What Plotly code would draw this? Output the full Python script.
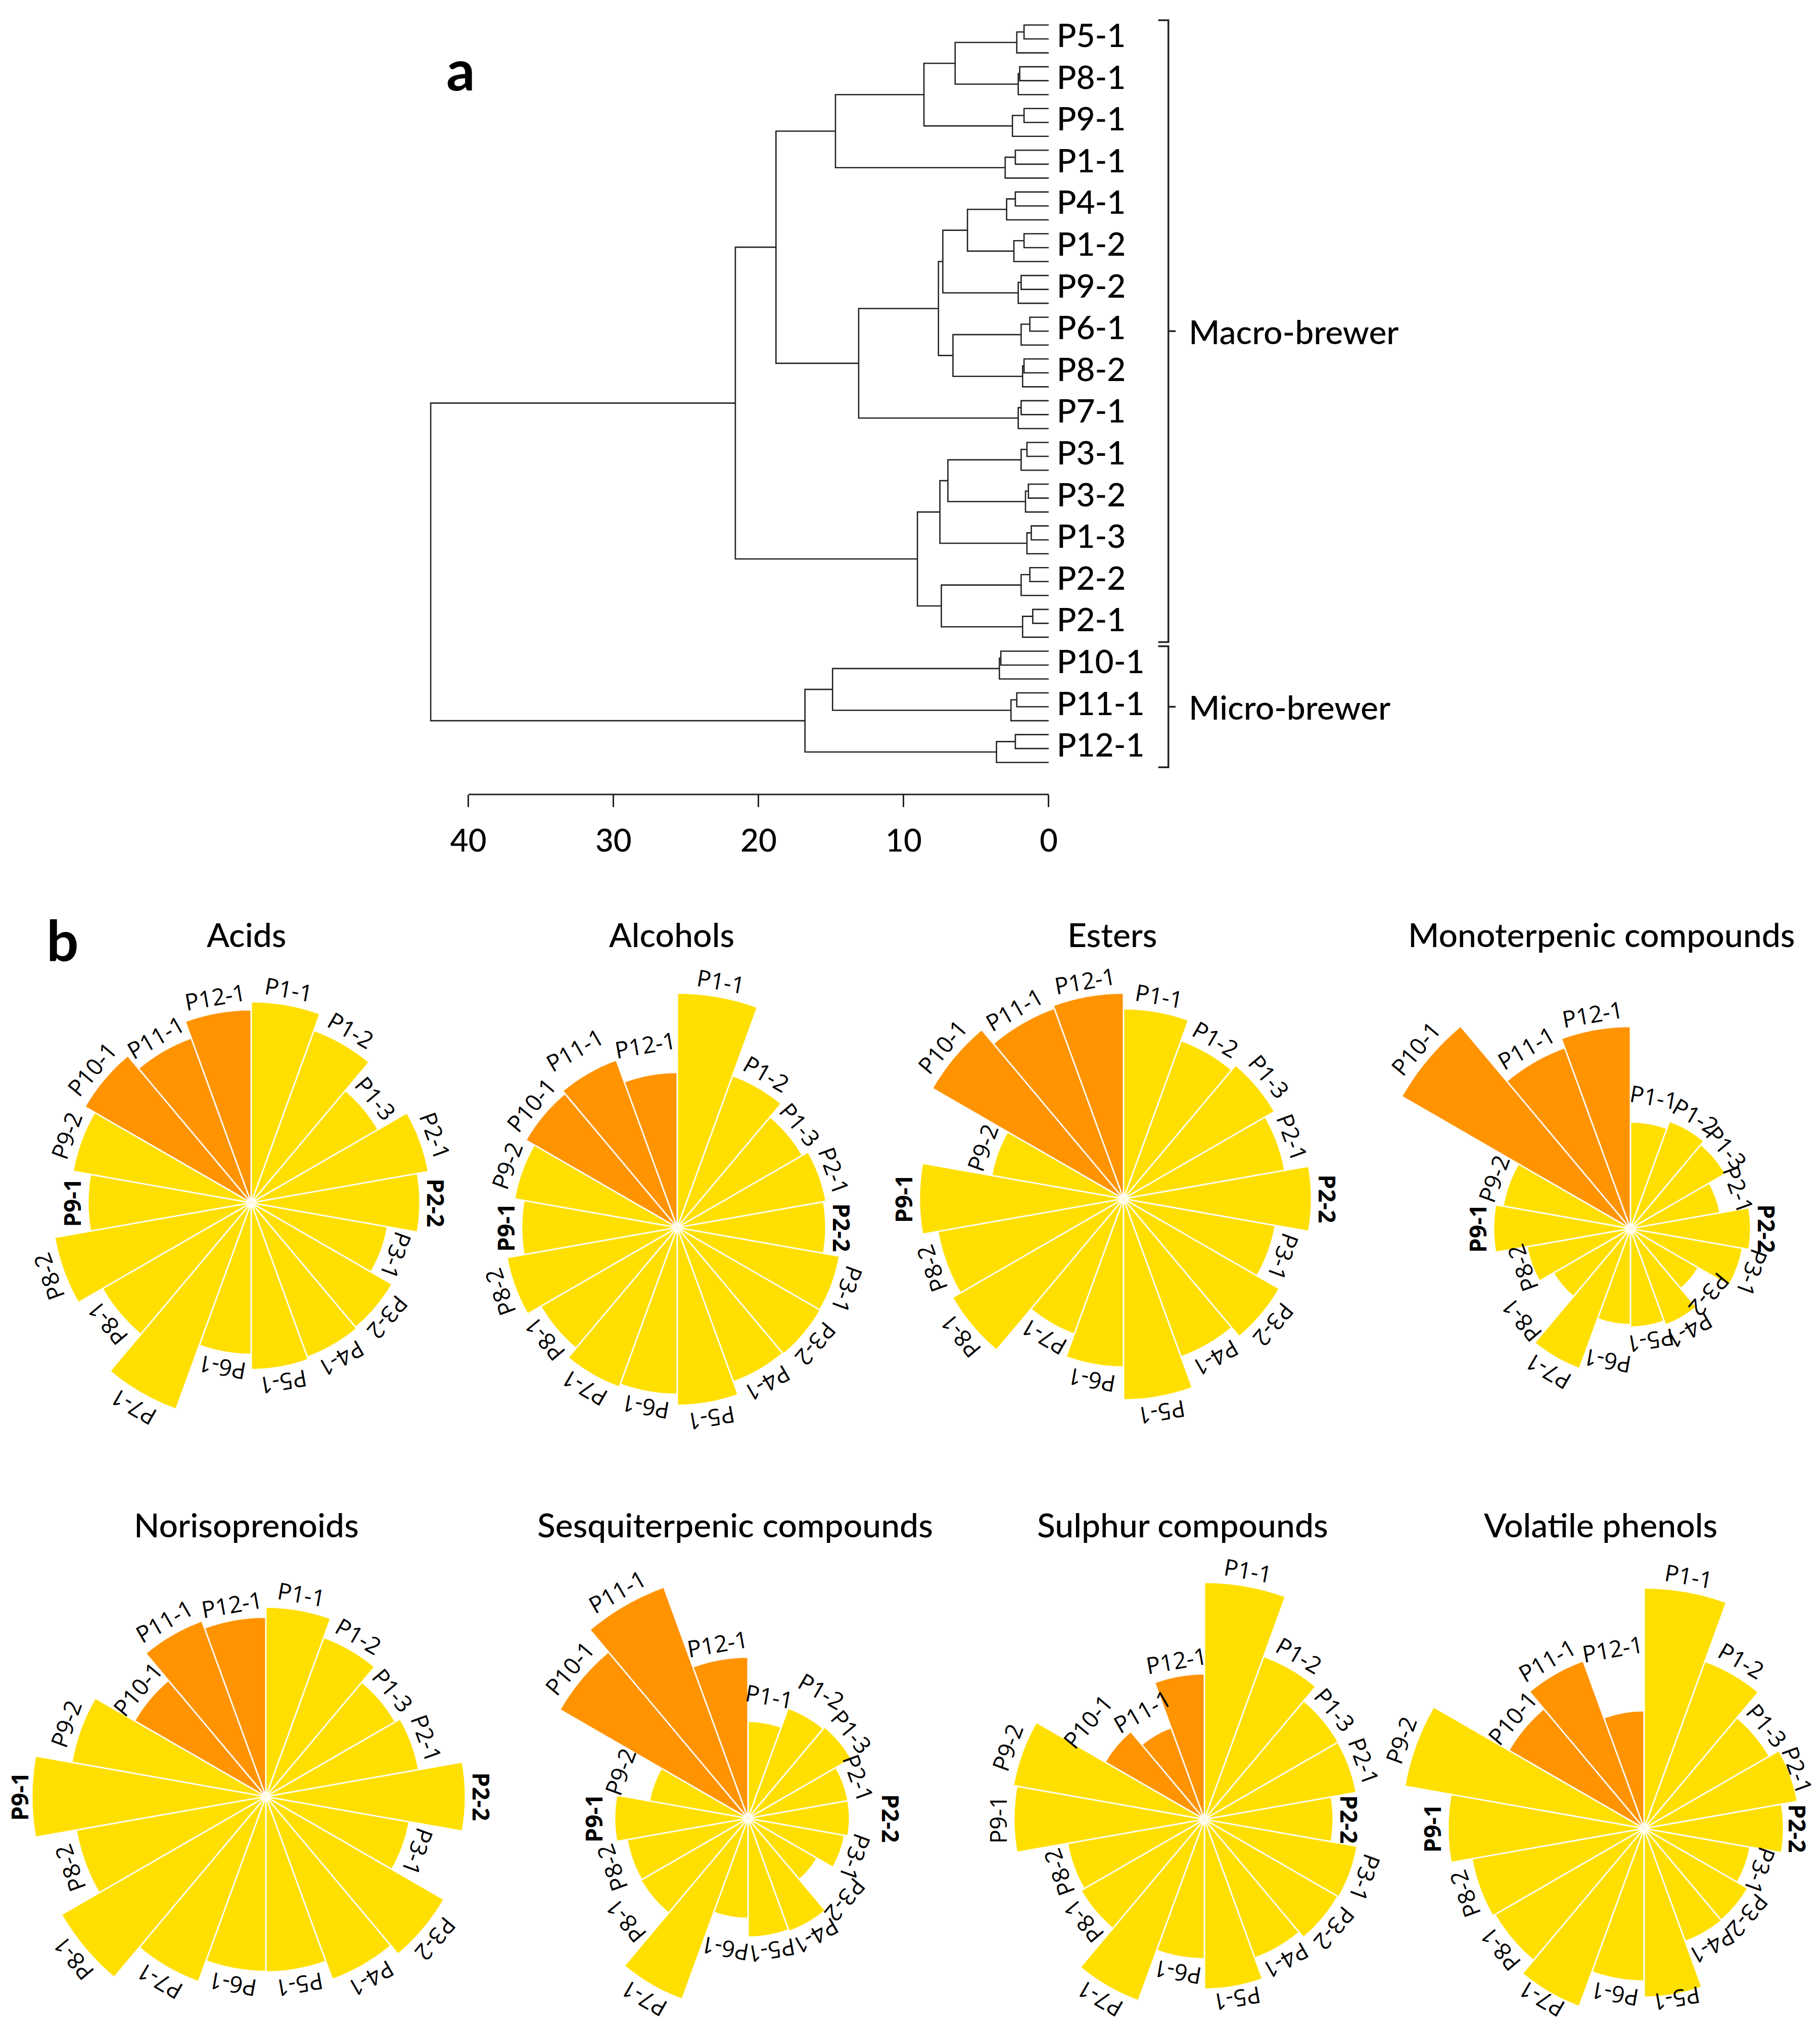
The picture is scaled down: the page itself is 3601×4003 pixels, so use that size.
import math
import plotly.graph_objects as go

W, H = 3601, 4003
FONT = "Lato"
LABEL_FONT = "Open Sans"

# ---------------- panel a : dendrogram data ----------------
groups = ["P5-1", "P8-1", "P9-1", "P1-1", "P4-1", "P1-2", "P9-2", "P6-1", "P8-2", "P7-1",
          "P3-1", "P3-2", "P1-3", "P2-2", "P2-1", "P10-1", "P11-1", "P12-1"]
# heights at which the three replicates of each sample join
rep_first = [1.7, 2.0, 1.7, 2.3, 2.3, 1.7, 1.9, 1.3, 1.7, 1.9, 1.5, 1.4, 1.2, 1.3, 1.1, 3.3, 2.2, 2.3]
rep_second = [2.2, 2.1, 2.5, 3.0, 2.9, 2.4, 2.1, 1.9, 1.8, 2.1, 1.9, 1.6, 1.5, 1.9, 1.8, 3.4, 2.6, 3.6]
# higher level merges
merge_left = ["P5-1", "A1", "A2", "P4-1", "B1", "P6-1", "B2", "B4", "A3",
              "P3-1", "C1", "P2-2", "C2", "M1", "P10-1", "D1", "MAC"]
merge_right = ["P8-1", "P9-1", "P1-1", "P1-2", "P9-2", "P8-2", "B3", "P7-1", "B5",
               "P3-2", "P1-3", "P2-1", "C3", "C4", "P11-1", "P12-1", "MIC"]
merge_height = [6.45, 8.6, 14.7, 5.6, 7.3, 6.6, 7.6, 13.1, 18.8,
                6.95, 7.5, 7.4, 9.05, 21.6, 14.9, 16.8, 42.6]
merge_name = ["A1", "A2", "A3", "B1", "B2", "B3", "B4", "B5", "M1",
              "C1", "C2", "C3", "C4", "MAC", "D1", "MIC", "ROOT"]
cluster_names = ["Macro-brewer", "Micro-brewer"]
cluster_sizes = [15, 3]
axis_ticks = [0, 10, 20, 30, 40]

# ---------------- panel b : polar bar data ----------------
samples = ["P1-1", "P1-2", "P1-3", "P2-1", "P2-2", "P3-1", "P3-2", "P4-1", "P5-1", "P6-1",
           "P7-1", "P8-1", "P8-2", "P9-1", "P9-2", "P10-1", "P11-1", "P12-1"]
micro_samples = ["P10-1", "P11-1", "P12-1"]
families = ["Acids", "Alcohols", "Esters", "Monoterpenic compounds",
            "Norisoprenoids", "Sesquiterpenic compounds", "Sulphur compounds", "Volatile phenols"]
acids = [398, 363, 290, 356, 334, 274, 322, 325, 330, 300, 435, 340, 395, 323, 358, 380, 347, 382]
alcohols = [464, 320, 286, 299, 294, 326, 327, 325, 352, 330, 336, 312, 342, 308, 327, 346, 353, 307]
esters = [376, 333, 345, 324, 372, 305, 356, 333, 398, 333, 285, 391, 373, 404, 265, 437, 401, 407]
monoterpenic = [211, 226, 217, 180, 238, 225, 155, 203, 195, 190, 295, 176, 208, 271, 256, 523, 381, 400]
norisoprenoids = [375, 335, 296, 307, 395, 288, 407, 385, 347, 346, 390, 467, 381, 463, 390, 300, 370, 355]
sesquiterpenic = [192, 232, 236, 201, 201, 194, 158, 238, 235, 198, 381, 245, 243, 264, 198, 430, 487, 319]
sulphur = [469, 343, 306, 305, 255, 307, 305, 292, 336, 276, 382, 282, 275, 377, 384, 227, 193, 288]
phenols = [476, 352, 286, 308, 276, 213, 237, 238, 334, 302, 375, 341, 346, 388, 481, 309, 353, 233]
family_values = [acids, alcohols, esters, monoterpenic, norisoprenoids, sesquiterpenic, sulphur, phenols]
bold_labels = [["P2-2", "P9-1"]] * 6 + [["P2-2"], ["P2-2", "P9-1"]]

# ---------------- layout constants ----------------
YELLOW = "#FFDF00"
ORANGE = "#FF9300"
centers = [(489, 2372), (1332, 2421), (2215, 2364), (3218, 2423),
           (518, 3547), (1472, 3590), (2375, 3592), (3245, 3610)]
title_pos = [(480, 1840), (1321, 1840), (2193, 1840), (3160, 1840),
             (480, 3008), (1446, 3008), (2332, 3008), (3159, 3008)]
LABEL_GAP = 32
# extra outward shift (px) of a few tick labels, as placed in the original figure
label_shift = {
    ("Alcohols", "P12-1"): 29, ("Alcohols", "P11-1"): 22,
    ("Monoterpenic compounds", "P1-1"): 22, ("Monoterpenic compounds", "P2-1"): 16,
    ("Monoterpenic compounds", "P3-2"): 17, ("Monoterpenic compounds", "P6-1"): 45,
    ("Monoterpenic compounds", "P8-1"): 75, ("Monoterpenic compounds", "P8-2"): -12,
    ("Sesquiterpenic compounds", "P1-1"): 22, ("Sesquiterpenic compounds", "P1-2"): 27,
    ("Sesquiterpenic compounds", "P2-2"): 50, ("Sesquiterpenic compounds", "P3-2"): 62,
    ("Sesquiterpenic compounds", "P6-1"): 33, ("Sesquiterpenic compounds", "P9-2"): 40,
    ("Sesquiterpenic compounds", "P8-1"): 40, ("Sesquiterpenic compounds", "P8-2"): 12,
    ("Sesquiterpenic compounds", "P9-1"): 10,
    ("Sulphur compounds", "P10-1"): 43, ("Sulphur compounds", "P11-1"): 22,
    ("Volatile phenols", "P12-1"): 96,
}
SECTOR = 360 / len(samples)

fig = go.Figure()

# ---- dendrogram lines ----
xs, ys = [], []
node = {}
for i, g in enumerate(groups):
    a, b, c = 3 * i, 3 * i + 1, 3 * i + 2
    h1, h2 = rep_first[i], rep_second[i]
    xs += [0, h1, h1, 0, None]
    ys += [a, a, b, b, None]
    m = (a + b) / 2
    xs += [h1, h2, h2, 0, None]
    ys += [m, m, c, c, None]
    node[g] = ((m + c) / 2, h2)
for l, r, hgt, n in zip(merge_left, merge_right, merge_height, merge_name):
    yl, hl = node[l]
    yr, hr = node[r]
    xs += [hl, hgt, hgt, hr, None]
    ys += [yl, yl, yr, yr, None]
    node[n] = ((yl + yr) / 2, hgt)

fig.add_trace(go.Scatter(x=xs, y=ys, mode="lines", line=dict(color="#222222", width=2.6),
                         hoverinfo="skip", xaxis="x", yaxis="y", cliponaxis=False))
fig.add_trace(go.Scatter(x=[-0.55] * len(groups), y=[3 * i + 1 for i in range(len(groups))],
                         mode="text", text=groups, textposition="middle right",
                         textfont=dict(family=FONT, size=64, color="black", weight=500),
                         hoverinfo="skip", xaxis="x", yaxis="y", cliponaxis=False))

shapes = []
shapes.append(dict(type="line", xref="x", yref="y domain", x0=max(axis_ticks), x1=min(axis_ticks),
                   y0=0, y1=0, line=dict(color="#222222", width=3)))
annotations = []
start = 0
for name, size in zip(cluster_names, cluster_sizes):
    y_top = 3 * start - 0.35
    y_bot = 3 * (start + size) - 1 + 0.35
    y_mid = (y_top + y_bot) / 2
    xv, xh, xn = -8.25, -7.55, -8.75
    path = (f"M {xh},{y_top} L {xv},{y_top} L {xv},{y_bot} L {xh},{y_bot} "
            f"M {xv},{y_mid} L {xn},{y_mid}")
    shapes.append(dict(type="path", xref="x", yref="y", path=path,
                       line=dict(color="#222222", width=3.5)))
    annotations.append(dict(x=-9.6, y=y_mid, xref="x", yref="y", text=name, showarrow=False,
                            xanchor="left", yanchor="middle",
                            font=dict(family=FONT, size=66, color="black", weight=500)))
    start += size


def sector_bbox(a0, a1):
    """bounding box (unit radius, y up) of a sector spanning standard angles a0..a1, incl. centre"""
    pts = [(0.0, 0.0)]
    angs = [a0, a1] + [k * 90 for k in range(-8, 9) if a0 < k * 90 < a1]
    for a in angs:
        pts.append((math.cos(math.radians(a)), math.sin(math.radians(a))))
    xs_ = [p[0] for p in pts]
    ys_ = [p[1] for p in pts]
    return min(xs_), max(xs_), min(ys_), max(ys_)


# ---- polar bar charts: one sector sub-plot per bar so that long bars are not clipped ----
layout_polars = {}
pcount = 0
for k, fam in enumerate(families):
    vals = family_values[k]
    cx, cy = centers[k]
    for i, s in enumerate(samples):
        pcount += 1
        pid = "polar" if pcount == 1 else f"polar{pcount}"
        v = vals[i]
        th_mid = SECTOR * (i + 0.5)              # clockwise from top
        a0 = 90 - SECTOR * (i + 1)               # standard angles of the sector
        a1 = 90 - SECTOR * i
        bx0, bx1, by0, by1 = sector_bbox(a0, a1)
        col = ORANGE if s in micro_samples else YELLOW
        fig.add_trace(go.Barpolar(r=[v], theta=[th_mid], width=[SECTOR],
                                  marker=dict(color=col, line=dict(color="white", width=3)),
                                  hoverinfo="skip", subplot=pid, showlegend=False))
        if i == 0:
            fig.add_trace(go.Scatterpolar(r=[0], theta=[0], mode="markers",
                                          marker=dict(color="white", size=16),
                                          cliponaxis=False, hoverinfo="skip",
                                          subplot=pid, showlegend=False))
        layout_polars[pid] = dict(
            domain=dict(x=[(cx + v * bx0) / W, (cx + v * bx1) / W],
                        y=[1 - (cy - v * by0) / H, 1 - (cy - v * by1) / H]),
            sector=[a0, a1], bgcolor="rgba(0,0,0,0)",
            radialaxis=dict(range=[0, v], visible=False),
            angularaxis=dict(visible=False, rotation=90, direction="clockwise"),
        )
        # tangential label beyond the bar end
        rr = v + LABEL_GAP + label_shift.get((fam, s), 0)
        px = cx + rr * math.sin(math.radians(th_mid))
        py = cy - rr * math.cos(math.radians(th_mid))
        px = min(max(px, 30), W - 52)
        py = min(py, H - 55)
        ta = ((th_mid + 180) % 360) - 180
        txt = f"<b>{s}</b>" if s in bold_labels[k] else s
        annotations.append(dict(x=px / W, y=1 - py / H, xref="paper", yref="paper", text=txt,
                                showarrow=False, textangle=ta, xanchor="center", yanchor="middle",
                                borderpad=0,
                                font=dict(family=LABEL_FONT, size=46, color="black")))
    tx, ty = title_pos[k]
    annotations.append(dict(x=tx / W, y=1 - ty / H, xref="paper", yref="paper", text=fam,
                            showarrow=False, xanchor="center", yanchor="middle",
                            font=dict(family=FONT, size=66, color="black", weight=500)))

annotations.append(dict(x=903 / W, y=1 - 128 / H, xref="paper", yref="paper", text="<b>a</b>",
                        showarrow=False, xanchor="center", yanchor="middle",
                        font=dict(family=FONT, size=112, color="black")))
annotations.append(dict(x=116 / W, y=1 - 1850 / H, xref="paper", yref="paper", text="<b>b</b>",
                        showarrow=False, xanchor="center", yanchor="middle",
                        font=dict(family=FONT, size=112, color="black")))

fig.update_layout(**layout_polars)
fig.update_layout(
    width=W, height=H, autosize=False,
    margin=dict(l=0, r=0, t=0, b=0),
    paper_bgcolor="white", plot_bgcolor="rgba(0,0,0,0)",
    showlegend=False,
    xaxis=dict(domain=[804 / W, 2641 / W], range=[44, -20], tickvals=axis_ticks,
               showgrid=False, zeroline=False, showline=False, ticks="outside",
               ticklen=24, tickwidth=3, tickcolor="#222222", ticklabelstandoff=14,
               tickfont=dict(family=FONT, size=62, color="black", weight=500), anchor="y"),
    yaxis=dict(domain=[1 - 1564 / H, 1 - 14 / H], range=[55.3, -1], visible=False),
    shapes=shapes,
    annotations=annotations,
)

fig.write_html("out.html")
